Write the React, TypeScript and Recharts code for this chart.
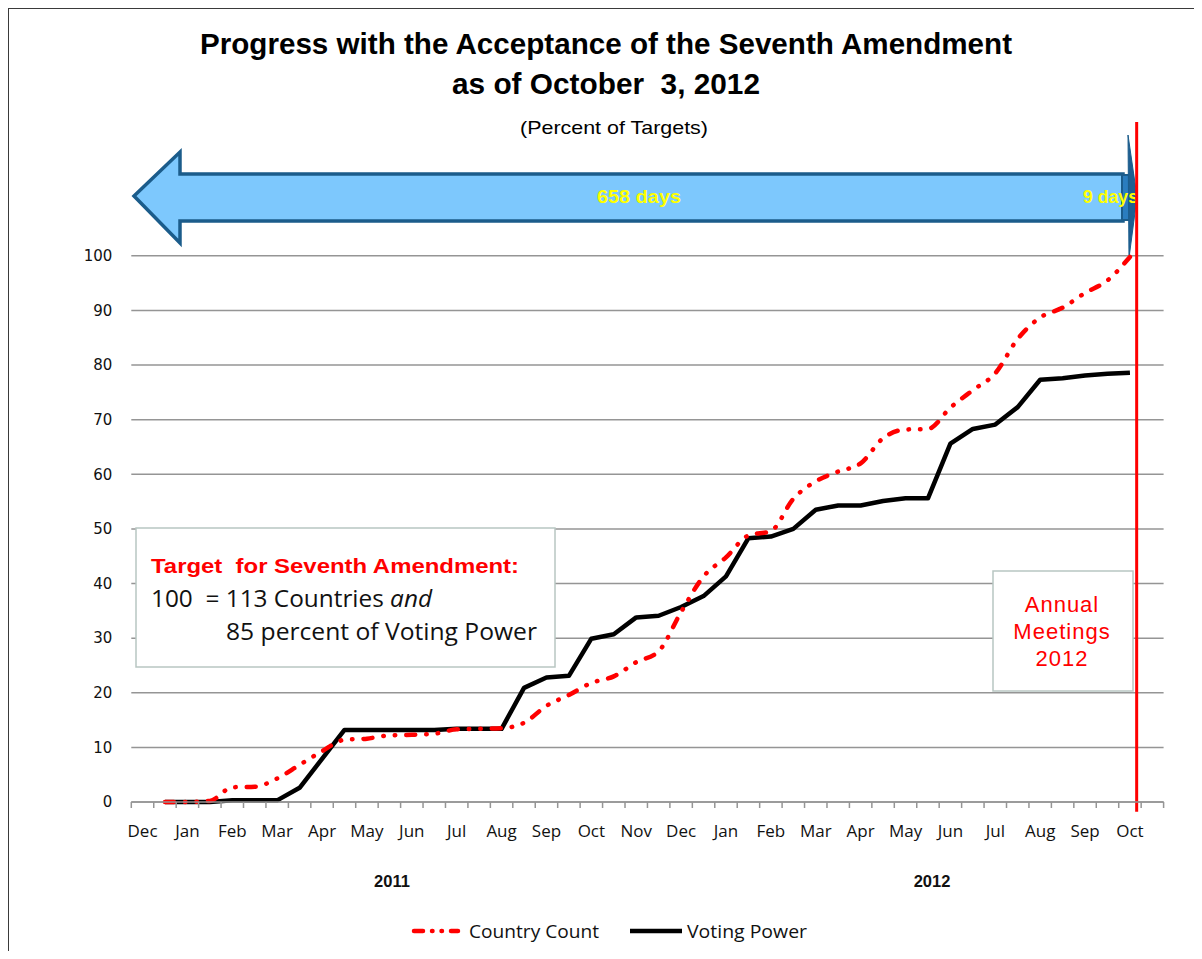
import React from 'react';
import { LineChart, Line, XAxis, YAxis, ReferenceLine } from 'recharts';

// ---- data (half-month slots, first point = second half of Dec 2010) ----
const monthLabels = ['Dec', 'Jan', 'Feb', 'Mar', 'Apr', 'May', 'Jun', 'Jul', 'Aug', 'Sep', 'Oct', 'Nov',
  'Dec', 'Jan', 'Feb', 'Mar', 'Apr', 'May', 'Jun', 'Jul', 'Aug', 'Sep', 'Oct'];
const yearLabels = ['2011', '2012'];
const yTicks = [0, 10, 20, 30, 40, 50, 60, 70, 80, 90, 100];
const countryCount = [0, 0, 0.2, 2.7, 2.8, 4.3, 6.8, 9.3, 11.4, 11.6, 12.2, 12.3, 12.5, 13.3, 13.4, 13.5,
  14.5, 17.6, 19.6, 21.8, 23.0, 25.6, 27.6, 34.8, 41.3, 44.8, 48.8, 49.6, 55.5, 58.7, 60.5, 62.0,
  66.6, 68.2, 68.3, 72.2, 75.4, 78.5, 84.8, 88.7, 90.5, 93.2, 95.5, 99.8];
const votingPower = [0, 0, 0, 0.3, 0.3, 0.3, 2.6, 7.9, 13.2, 13.2, 13.2, 13.2, 13.2, 13.4, 13.4, 13.4,
  20.9, 22.8, 23.1, 29.9, 30.7, 33.8, 34.1, 35.7, 37.7, 41.3, 48.3, 48.6, 50.0, 53.5, 54.3, 54.3,
  55.1, 55.6, 55.6, 65.6, 68.3, 69.1, 72.3, 77.3, 77.6, 78.1, 78.4, 78.6];
const seriesNames = ['Country Count', 'Voting Power'];
const HALF_MONTHS = 46;
const annualMeetingsSlot = 44.8;

const data = countryCount.map((c, k) => ({ slot: k + 1.5, country: c, voting: votingPower[k] }));
const xTicks = Array.from({ length: HALF_MONTHS + 1 }, (_, i) => i);

// ---- layout ----
const CW = 1180;
const CH = 880;
const M = { top: 114, right: 24.4, bottom: 56, left: 63.3 };
const YW = 60;
const XH = 30;
const PLOT_W = CW - M.left - M.right - YW;
const CELL = PLOT_W / HALF_MONTHS;
const GRID = '#959595';
const NB = '\u00a0';

const XTick = (props: any) => {
  const { x, y, payload } = props;
  const v = payload.value;
  if (v % 2 !== 0 || v >= HALF_MONTHS) return <g />;
  return (
    <text x={x + CELL / 2} y={y + 29} textAnchor="middle" fontFamily="'Open Sans'" fontSize={17} fill="#111">
      {monthLabels[v / 2]}
    </text>
  );
};

export default function App() {
  return (
    <div style={{ position: 'relative', width: 1186, height: 943 }}>
      {/* under-layer: title and arrow */}
      <svg width={1200} height={300} style={{ position: 'absolute', left: -8, top: -8 }}>
        <text x={200} y={54} fontFamily="'Liberation Sans'" fontWeight="bold" fontSize={30} textLength={812}
          lengthAdjust="spacingAndGlyphs" fill="#000">Progress with the Acceptance of the Seventh Amendment</text>
        <text x={452} y={94} fontFamily="'Liberation Sans'" fontWeight="bold" fontSize={30} textLength={308}
          lengthAdjust="spacingAndGlyphs" fill="#000">{`as of October${NB} 3, 2012`}</text>
        <text x={520} y={134} fontFamily="'Liberation Sans'" fontSize={19} textLength={188}
          lengthAdjust="spacingAndGlyphs" fill="#000">(Percent of Targets)</text>
        <polygon points="134,196 180,152 180,174 1123,174 1123,221 180,221 180,243"
          fill="#7DC8FD" stroke="#1B5C8B" strokeWidth={3.5} strokeLinejoin="miter" />
        <rect x={1122} y={175} width={11} height={45} fill="#2A7DBF" stroke="#1B5C8B" strokeWidth={2} />
        <polygon points="1128,135 1137,197 1129,258" fill="#1E5F91" stroke="#1B5C8B" strokeWidth={1} />
        <text x={597} y={203} fontFamily="'Liberation Sans'" fontWeight="bold" fontSize={18} textLength={84}
          lengthAdjust="spacingAndGlyphs" fill="#FFFF00">658 days</text>
        <text x={1083} y={203} fontFamily="'Liberation Sans'" fontWeight="bold" fontSize={18} textLength={55}
          lengthAdjust="spacingAndGlyphs" fill="#FFFF00">9 days</text>
      </svg>

      <div style={{ position: 'absolute', left: 0, top: 0 }}>
        <LineChart width={CW} height={CH} data={data} margin={M}>
          {yTicks.map((t) => (
            <ReferenceLine key={t} y={t} stroke={GRID} strokeWidth={1.5} />
          ))}
          <XAxis dataKey="slot" type="number" domain={[0, HALF_MONTHS]} ticks={xTicks} interval={0}
            height={XH} tickSize={6} tickMargin={0}
            tickLine={{ stroke: GRID, strokeWidth: 1.5 }} axisLine={{ stroke: GRID, strokeWidth: 1.5 }}
            tick={(p: any) => <XTick {...p} />} />
          <YAxis type="number" domain={[0, 124.5]} ticks={yTicks} interval={0} width={YW}
            axisLine={false} tickLine={false} tickSize={6} tickMargin={13}
            tick={{ fill: '#111', fontSize: 15, fontFamily: "'DejaVu Sans'" }} />
          <Line dataKey="voting" name={seriesNames[1]} type="linear" stroke="#000" strokeWidth={4.5}
            dot={false} isAnimationActive={false} strokeLinejoin="round" />
          <Line dataKey="country" name={seriesNames[0]} type="monotone" stroke="#FF0000" strokeWidth={4.5}
            strokeDasharray="9 11 0.5 11 0.5 11" strokeLinecap="round" dot={false} isAnimationActive={false} />
          <ReferenceLine segment={[{ x: annualMeetingsSlot, y: -1.8 }, { x: annualMeetingsSlot, y: 124.5 }]}
            stroke="#FF0000" strokeWidth={3} ifOverflow="visible" />
        </LineChart>
      </div>

      {/* over-layer: text boxes, years, legend, frame */}
      <svg width={1200} height={951} style={{ position: 'absolute', left: -8, top: -8, pointerEvents: 'none' }}>
        <line x1={8.5} y1={8} x2={8.5} y2={951} stroke="#3a3a3a" strokeWidth={1} />
        <line x1={8} y1={8.5} x2={1199.5} y2={8.5} stroke="#3a3a3a" strokeWidth={1} />
        <line x1={1199.5} y1={8} x2={1199.5} y2={951} stroke="#3a3a3a" strokeWidth={1} />

        <rect x={136} y={528} width={419} height={139} fill="#fff" stroke="#B8C6C2" strokeWidth={1.5} />
        <text x={151} y={573} fontFamily="'Liberation Sans'" fontWeight="bold" fontSize={21} fill="#FF0000"
          textLength={368} lengthAdjust="spacingAndGlyphs">{`Target${NB} for Seventh Amendment:`}</text>
        <text x={151} y={607} fontFamily="'Open Sans'" fontSize={23} fill="#111" textLength={281}
          lengthAdjust="spacingAndGlyphs">
          {`100${NB} = 113 Countries `}<tspan fontStyle="italic">and</tspan>
        </text>
        <text x={226} y={640} fontFamily="'Open Sans'" fontSize={23} fill="#111" textLength={311}
          lengthAdjust="spacingAndGlyphs">85 percent of Voting Power</text>

        <rect x={993} y={571} width={140} height={120} fill="#fff" stroke="#B8C6C2" strokeWidth={1.5} />
        <text x={1062} y={612} textAnchor="middle" fontFamily="'Liberation Sans'" fontSize={22} letterSpacing={1} fill="#FF0000">Annual</text>
        <text x={1062} y={639} textAnchor="middle" fontFamily="'Liberation Sans'" fontSize={22} letterSpacing={1} fill="#FF0000">Meetings</text>
        <text x={1062} y={666} textAnchor="middle" fontFamily="'Liberation Sans'" fontSize={22} letterSpacing={1} fill="#FF0000">2012</text>

        <text x={392} y={887} textAnchor="middle" fontFamily="'Liberation Sans'" fontWeight="bold" fontSize={16.5} fill="#111">{yearLabels[0]}</text>
        <text x={932} y={887} textAnchor="middle" fontFamily="'Liberation Sans'" fontWeight="bold" fontSize={16.5} fill="#111">{yearLabels[1]}</text>

        <line x1={414} y1={931} x2={458} y2={931} stroke="#FF0000" strokeWidth={4.5} strokeLinecap="round"
          strokeDasharray="9 9 0.5 9 0.5 9" />
        <text x={469} y={937.5} fontFamily="'Open Sans'" fontSize={19} fill="#111" textLength={130}
          lengthAdjust="spacingAndGlyphs">{seriesNames[0]}</text>
        <line x1={630} y1={931} x2={682} y2={931} stroke="#000" strokeWidth={4.5} />
        <text x={687} y={937.5} fontFamily="'Open Sans'" fontSize={19} fill="#111" textLength={120}
          lengthAdjust="spacingAndGlyphs">{seriesNames[1]}</text>
      </svg>
    </div>
  );
}
